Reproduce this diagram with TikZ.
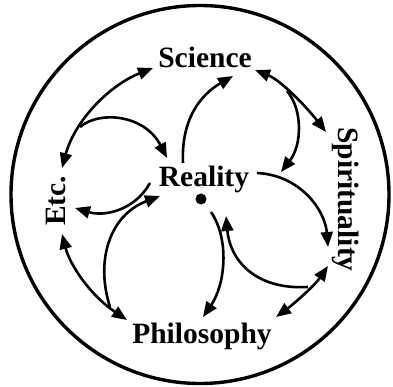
\documentclass[tikz,border=0pt]{standalone}
\usepackage{fontspec}
\setmainfont{Liberation Serif}
\usetikzlibrary{arrows.meta}
\begin{document}
\begin{tikzpicture}[x=1pt,y=-1pt,
  lbl/.style={font=\fontsize{29.5}{30}\selectfont\bfseries, inner sep=0pt, anchor=base},
  conn/.style={line width=2.6pt, -{Triangle[length=15pt,width=12pt]}},
  dconn/.style={line width=2.6pt, {Triangle[length=15pt,width=12pt]}-{Triangle[length=15pt,width=12pt]}}]
\useasboundingbox (0,0) rectangle (393,387);
\draw[line width=3.4pt] (200,194.5) circle[radius=189];
% labels
\node[lbl] (sci) at (205,68) {Science};
\node[lbl] (rea) at (204,187) {Reality};
\node[lbl] (phi) at (202,343) {Philosophy};
\node[lbl, rotate=90] (etc) at (65,201) {Etc.};
\node[lbl, rotate=-90] (spi) at (338,199.5) {Spirituality};
\node[circle, fill=black, inner sep=0pt, minimum size=11pt] (dot) at (201,199) {};
% coordinates
\coordinate (sciL) at (153,68);
\coordinate (sciR) at (255,70);
\coordinate (sciB) at (233,76);
\coordinate (etcT) at (62,168);
\coordinate (etcM) at (75,208);
\coordinate (etcB) at (62,234);
\coordinate (reaIn) at (167,158);
\coordinate (reaUp) at (183,163);
\coordinate (reaR) at (257,173);
\coordinate (reaL) at (150,183);
\coordinate (reaLL) at (160,196);
\coordinate (reaDR) at (226,216);
\coordinate (dotB) at (211,212);
\coordinate (spiT) at (326,132);
\coordinate (spiM) at (328,247);
\coordinate (spiB) at (328,266);
\coordinate (phiR) at (276,317);
\coordinate (phiM) at (203,317);
\coordinate (phiL) at (127,320);
\coordinate (b1) at (80,127);
\coordinate (b2) at (287,91);
\coordinate (b3) at (308,287);
\coordinate (b4) at (110,307);
\coordinate (tip5) at (281,172);
% connectors
\draw[dconn] (etcT) .. controls (75,120) and (110,85) .. (sciL);
\draw[conn] (b1) .. controls (100,110) and (145,115) .. (reaIn);
\draw[conn] (reaUp) .. controls (181,120) and (200,95) .. (sciB);
\draw[dconn] (sciR) .. controls (280,80) and (305,105) .. (spiT);
\draw[conn] (b2) .. controls (303,110) and (302,145) .. (tip5);
\draw[conn] (reaR) .. controls (300,175) and (325,210) .. (spiM);
\draw[dconn] (phiR) .. controls (295,303) and (315,285) .. (spiB);
\draw[conn] (b3) .. controls (255,290) and (230,260) .. (reaDR);
\draw[conn] (dotB) .. controls (230,240) and (225,285) .. (phiM);
\draw[dconn] (etcB) .. controls (70,265) and (90,295) .. (phiL);
\draw[conn] (b4) .. controls (95,260) and (110,215) .. (reaLL);
\draw[conn] (reaL) .. controls (135,210) and (105,217) .. (etcM);
\end{tikzpicture}
\end{document}
